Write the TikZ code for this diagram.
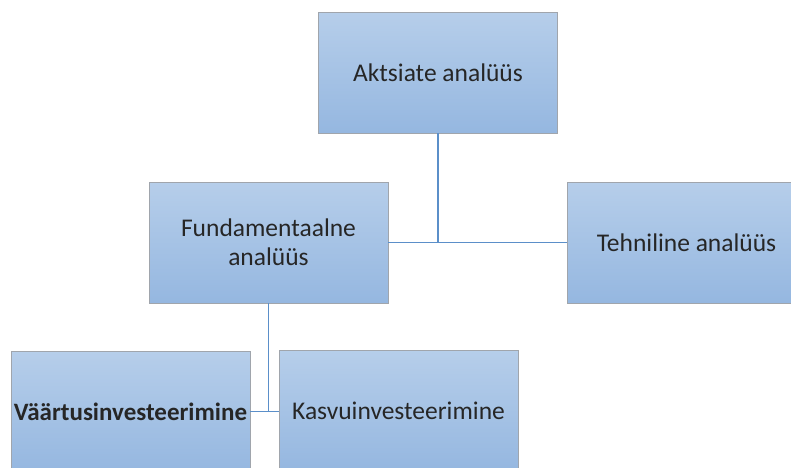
\documentclass[tikz,border=0pt]{standalone}
\usepackage{fontspec}
\setmainfont{Carlito}
\usepackage{tikz}
\definecolor{boxtop}{RGB}{182,206,234}
\definecolor{boxbot}{RGB}{149,183,224}
\definecolor{boxline}{RGB}{160,165,172}
\definecolor{linkblue}{RGB}{91,143,201}

\tikzset{
  kast/.style={rectangle, draw=boxline, top color=boxtop, bottom color=boxbot,
    minimum width=239pt, minimum height=121pt, inner sep=1pt, align=center,
    font=\fontsize{25.5}{29}\selectfont, text=black!85},
  seos/.style={linkblue, line width=1.5pt}
}

\begin{document}
\begin{tikzpicture}[x=1pt,y=-1pt]
\useasboundingbox (0,0) rectangle (791,467);
\clip (0,0) rectangle (791,467);

\node [kast] (aktsiad) at (438,72.5) {Aktsiate analüüs};
\node [kast] (fund) at (268.5,242.5) {Fundamentaalne\\analüüs};
\node [kast] (tehn) at (686.5,242.5) {Tehniline analüüs};
\node [kast, font=\fontsize{25}{29}\selectfont\bfseries] (vaartus) at (130.5,411.5) {Väärtusinvesteerimine};
\node [kast] (kasvu) at (398.5,410.5) {Kasvuinvesteerimine};

\draw [seos] (fund.east) -- (tehn.west);
\draw [seos] (aktsiad.south) -- (aktsiad.south |- fund.east);
\draw [seos] (vaartus.east) -- (vaartus.east -| kasvu.west);
\draw [seos] (fund.south) -- (fund.south |- vaartus.east);

\end{tikzpicture}
\end{document}
